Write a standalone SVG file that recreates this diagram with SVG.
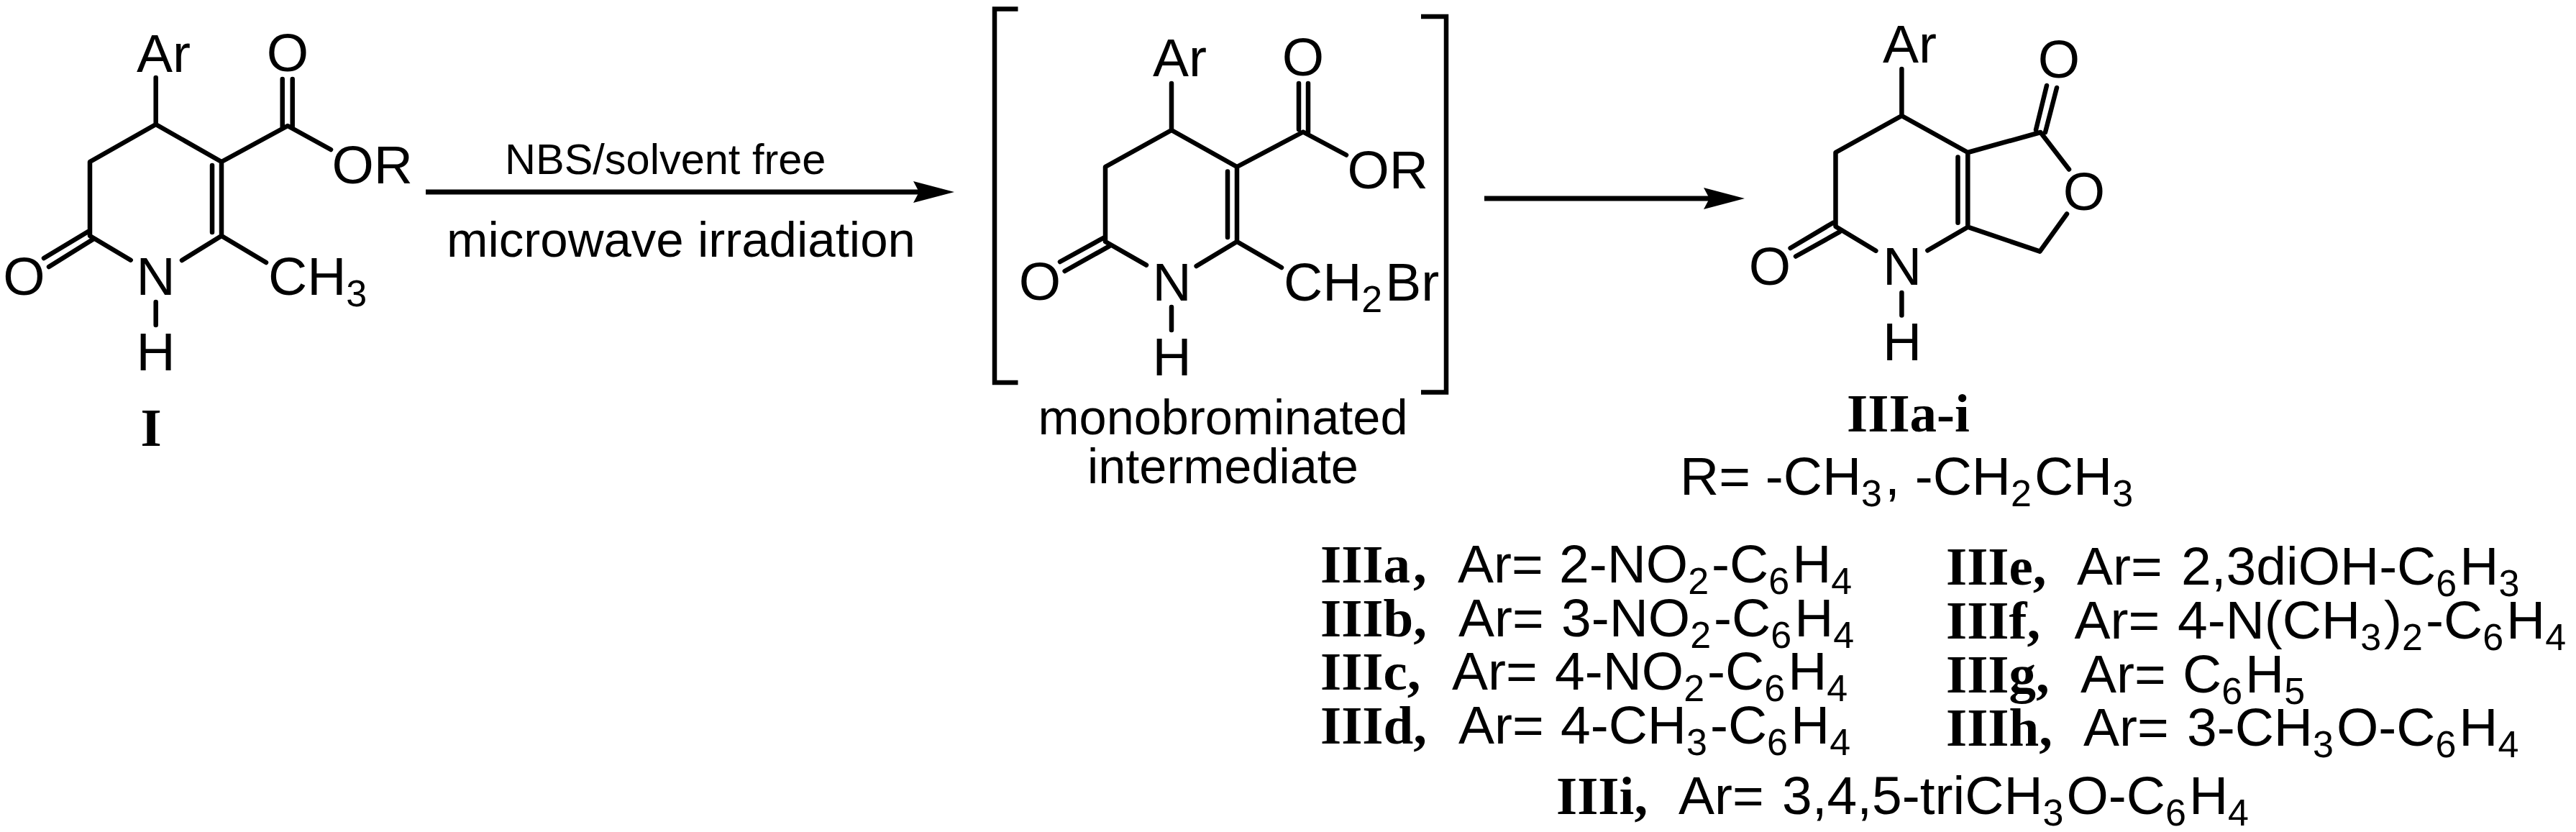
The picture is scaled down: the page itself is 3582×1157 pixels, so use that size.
<svg xmlns="http://www.w3.org/2000/svg" width="3582" height="1157" viewBox="0 0 3582 1157">
<style>
text{font-family:"Liberation Sans",Arial,sans-serif;font-size:75px;fill:#000}
.b{font-family:"Liberation Serif","Times New Roman",serif;font-weight:bold;font-size:75px}
.l{font-size:68.500px}
.s{font-size:52px;baseline-shift:-16px;letter-spacing:4px}
.m{text-anchor:middle}
.bond{fill:none;stroke:#000;stroke-width:6.500;stroke-linecap:round;stroke-linejoin:round}
.brk{fill:none;stroke:#000;stroke-width:6.500;stroke-linejoin:miter}
.arr{fill:none;stroke:#000;stroke-width:7}
</style>
<defs>
<marker id="head" markerUnits="userSpaceOnUse" markerWidth="60" markerHeight="34" refX="21" refY="15" orient="auto"><path d="M0 0L57 15L0 30L8 15Z" fill="#000"/></marker>
</defs>
<rect width="3582" height="1157" fill="#fff"/>
<g id="compound-I">
<path class="bond" d="M216.700 108V173L125 225V328L181.700 361.700M216.700 173L308 225V328L253 362M308 328L370 365M295 230V323M308 225L400 175L460 208M392.700 110V177M406.700 110V177M61 359L123 321.700M68 371L129 333M216.700 420V452"/>
<text x="190" y="100">Ar</text>
<text class="m" x="400" y="99">O</text>
<text x="461.500" y="255">OR</text>
<text class="m" x="33.500" y="410">O</text>
<text class="m" x="216.700" y="410">N</text>
<text x="373" y="410">CH<tspan class="s">3</tspan></text>
<text class="m" x="216.700" y="515">H</text>
<text class="b m" x="210" y="620">I</text>
</g>
<g id="intermediate">
<path class="brk" d="M1415.500 12.500H1383V532H1415.500M1976 23H2011V545.500H1976"/>
<path class="bond" d="M1629 116V181L1537 232V336L1594 368.600M1629 181L1720 232V336L1663.600 370M1720 336L1782 372M1707 238.500V330M1720 232L1812 183.500L1872 215.500M1806 116V180M1819 116V184M1474 364L1535 330.500M1480.600 377L1542 342.600M1629 427V459"/>
<text x="1603" y="106">Ar</text>
<text class="m" x="1812" y="105">O</text>
<text x="1873.500" y="261.500">OR</text>
<text class="m" x="1446" y="417">O</text>
<text class="m" x="1629.500" y="417.500">N</text>
<text x="1785" y="417.500">CH<tspan class="s">2</tspan>Br</text>
<text class="m" x="1629.500" y="521.700">H</text>
<text class="l m" x="1700.500" y="603.600">monobrominated</text>
<text class="l m" x="1700.500" y="672">intermediate</text>
</g>
<g id="product">
<path class="bond" d="M2644.400 96V161L2552.500 212V315L2608.400 348.700M2644.400 161L2736.300 212V315.700L2680.400 348.300M2722.500 218.600V309.700M2736.300 212L2837.400 184L2877 235.500M2874 297.500L2836.500 349.600L2736.300 315.700M2831 180.500L2846 119M2844 184L2860 122M2489.600 345L2549 309.700M2497 356.500L2557.700 322.700M2644.400 407V438.500"/>
<text x="2618" y="87">Ar</text>
<text class="m" x="2863" y="108">O</text>
<text class="m" x="2898" y="291.500">O</text>
<text class="m" x="2461" y="395.500">O</text>
<text class="m" x="2645" y="396.400">N</text>
<text class="m" x="2645" y="500.500">H</text>
<text class="b m" x="2653.500" y="600">IIIa-i</text>
<text x="2336" y="688">R= -CH<tspan class="s">3</tspan>, -CH<tspan class="s">2</tspan>CH<tspan class="s">3</tspan></text>
</g>
<g id="connectors">
<path class="arr" d="M592 267H1291" marker-end="url(#head)"/>
<path class="arr" d="M2064 276H2390" marker-end="url(#head)"/>
</g>
<g id="conditions">
<text x="702" y="242" style="font-size:59.500px">NBS/solvent free</text>
<text x="621" y="356.700" style="font-size:69px">microwave irradiation</text>
</g>
<g id="substituents">
<text y="810"><tspan class="b" x="1836">IIIa</tspan><tspan class="b" dx="4">,</tspan><tspan x="2027">Ar=</tspan><tspan x="2168">2-NO<tspan class="s">2</tspan>-C<tspan class="s">6</tspan>H<tspan class="s">4</tspan></tspan></text>
<text y="885"><tspan class="b" x="1836">IIIb</tspan><tspan class="b">,</tspan><tspan x="2028">Ar=</tspan><tspan x="2171">3-NO<tspan class="s">2</tspan>-C<tspan class="s">6</tspan>H<tspan class="s">4</tspan></tspan></text>
<text y="959"><tspan class="b" x="1836">IIIc</tspan><tspan class="b">,</tspan><tspan x="2019">Ar=</tspan><tspan x="2162">4-NO<tspan class="s">2</tspan>-C<tspan class="s">6</tspan>H<tspan class="s">4</tspan></tspan></text>
<text y="1034"><tspan class="b" x="1836">IIId</tspan><tspan class="b">,</tspan><tspan x="2028">Ar=</tspan><tspan x="2170">4-CH<tspan class="s">3</tspan>-C<tspan class="s">6</tspan>H<tspan class="s">4</tspan></tspan></text>
<text y="813"><tspan class="b" x="2706">IIIe</tspan><tspan class="b">,</tspan><tspan x="2888">Ar=</tspan><tspan x="3033">2,3diOH-C<tspan class="s">6</tspan>H<tspan class="s">3</tspan></tspan></text>
<text y="888"><tspan class="b" x="2706">IIIf</tspan><tspan class="b">,</tspan><tspan x="2884.500">Ar=</tspan><tspan x="3028">4-N(CH<tspan class="s">3</tspan>)<tspan class="s">2</tspan>-C<tspan class="s">6</tspan>H<tspan class="s">4</tspan></tspan></text>
<text y="963"><tspan class="b" x="2706">IIIg</tspan><tspan class="b">,</tspan><tspan x="2893">Ar=</tspan><tspan x="3035">C<tspan class="s">6</tspan>H<tspan class="s">5</tspan></tspan></text>
<text y="1037"><tspan class="b" x="2706">IIIh</tspan><tspan class="b">,</tspan><tspan x="2897">Ar=</tspan><tspan x="3041">3-CH<tspan class="s">3</tspan>O-C<tspan class="s">6</tspan>H<tspan class="s">4</tspan></tspan></text>
<text y="1132"><tspan class="b" x="2164">IIIi</tspan><tspan class="b">,</tspan><tspan x="2334">Ar=</tspan><tspan x="2478">3,4,5-triCH<tspan class="s">3</tspan>O-C<tspan class="s">6</tspan>H<tspan class="s">4</tspan></tspan></text>
</g>
</svg>
